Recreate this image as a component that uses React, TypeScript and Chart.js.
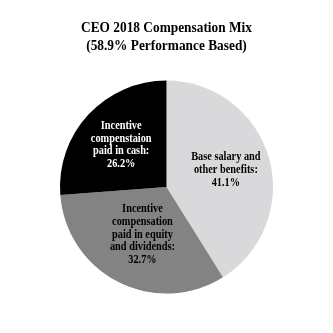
import React, { useEffect, useRef } from "react";
import { Chart, registerables } from "chart.js";

Chart.register(...registerables);

const titleLines = ["CEO 2018 Compensation Mix", "(58.9% Performance Based)"];
const categories = [
  ["Base salary and", "other benefits:"],
  ["Incentive", "compensation", "paid in equity", "and dividends:"],
  ["Incentive", "compenstaion", "paid in cash:"],
];
const values = [41.1, 32.7, 26.2];
const colors = ["#d9d9db", "#838383", "#000000"];
const textColors = ["#000000", "#000000", "#ffffff"];
const labelRadius = [0.58, 0.5, 0.58];

const SERIF = "'Liberation Serif', 'Times New Roman', serif";
const TITLE_SIZE = 15;
const TITLE_LH = 18;
const TITLE_PAD_TOP = 19;

function drawScaled(ctx: CanvasRenderingContext2D, text: string, x: number, y: number, sx: number) {
  ctx.save();
  ctx.translate(x, y);
  ctx.scale(sx, 1);
  ctx.fillText(text, 0, 0);
  ctx.restore();
}

const labelPlugin = {
  id: "sliceLabels",
  afterDatasetsDraw(chart: any) {
    const ctx = chart.ctx;
    const meta = chart.getDatasetMeta(0);
    meta.data.forEach((arc: any, i: number) => {
      const { x, y, startAngle, endAngle, outerRadius } = arc.getProps(
        ["x", "y", "startAngle", "endAngle", "outerRadius"],
        true
      );
      const mid = (startAngle + endAngle) / 2;
      const r = outerRadius * labelRadius[i];
      const cx = x + Math.cos(mid) * r;
      const cy = y + Math.sin(mid) * r;
      const lines = [...categories[i], values[i].toFixed(1) + "%"];
      const lh = 12.8;
      ctx.save();
      ctx.font = "bold 12px " + SERIF;
      ctx.fillStyle = textColors[i];
      ctx.textAlign = "center";
      ctx.textBaseline = "middle";
      const start = cy - ((lines.length - 1) * lh) / 2;
      lines.forEach((t, k) => drawScaled(ctx, t, cx, start + k * lh, 0.86));
      ctx.restore();
    });
  },
  afterDraw(chart: any) {
    const ctx = chart.ctx;
    const tb = chart.titleBlock;
    if (!tb) return;
    const cx = (chart.chartArea.left + chart.chartArea.right) / 2;
    ctx.save();
    ctx.font = `bold ${TITLE_SIZE}px ` + SERIF;
    ctx.fillStyle = "#000";
    ctx.textAlign = "center";
    ctx.textBaseline = "middle";
    titleLines.forEach((t, k) =>
      drawScaled(ctx, t, cx, tb.top + TITLE_PAD_TOP + TITLE_LH / 2 + k * TITLE_LH, 0.89)
    );
    ctx.restore();
  },
};

export default function App() {
  const ref = useRef<HTMLCanvasElement>(null);
  useEffect(() => {
    const chart = new Chart(ref.current!, {
      type: "pie",
      data: {
        labels: categories.map((c) => c.join(" ")),
        datasets: [
          {
            data: values,
            backgroundColor: colors,
            borderWidth: 0,
          },
        ],
      },
      options: {
        animation: false,
        responsive: false,
        events: [],
        layout: { padding: { top: 0, bottom: 31, left: 60, right: 60 } },
        plugins: {
          legend: { display: false },
          tooltip: { enabled: false },
          title: {
            display: true,
            text: titleLines,
            color: "rgba(0,0,0,0)",
            font: { family: SERIF, size: TITLE_SIZE, weight: "bold", lineHeight: TITLE_LH / TITLE_SIZE },
            padding: { top: TITLE_PAD_TOP, bottom: 17 },
          },
        },
      },
      plugins: [labelPlugin],
    });
    return () => chart.destroy();
  }, []);
  return (
    <div style={{ position: "absolute", left: 0, top: 0, width: 333, height: 333, background: "#fff" }}>
      <canvas ref={ref} width={333} height={333} style={{ width: 333, height: 333 }} />
    </div>
  );
}
